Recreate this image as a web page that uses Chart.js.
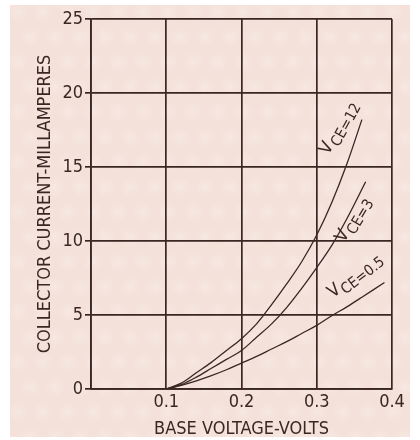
<!DOCTYPE html>
<html>
<head>
<meta charset="utf-8">
<script src="https://cdn.jsdelivr.net/npm/chart.js@4"></script>
<style>
  html, body { margin: 0; padding: 0; background: #ffffff; }
  #wrap { width: 420px; height: 440px; }
</style>
</head>
<body>
<div id="wrap"><canvas id="c" width="420" height="440"></canvas></div>
<script>
// ---- data ----
const xTickValues = [0, 0.1, 0.2, 0.3, 0.4];
const xTickLabels = ['', '0.1', '0.2', '0.3', '0.4'];
const yTickValues = [0, 5, 10, 15, 20, 25];
const yTickLabels = ['0', '5', '10', '15', '20', '25'];

const seriesNames = ['12', '3', '0.5'];

const vce12X = [0.10, 0.12, 0.14, 0.16, 0.18, 0.20, 0.22, 0.24, 0.26, 0.28, 0.30, 0.32, 0.34, 0.36];
const vce12Y = [0, 0.4, 1.1, 1.8, 2.6, 3.4, 4.4, 5.7, 7.1, 8.6, 10.4, 12.6, 15.2, 18.2];

const vce3X = [0.10, 0.12, 0.14, 0.16, 0.18, 0.20, 0.22, 0.24, 0.26, 0.28, 0.30, 0.32, 0.34, 0.365];
const vce3Y = [0, 0.3, 0.8, 1.4, 2.0, 2.6, 3.5, 4.4, 5.5, 6.8, 8.2, 9.7, 11.5, 14.0];

const vce05X = [0.10, 0.12, 0.14, 0.16, 0.18, 0.20, 0.22, 0.24, 0.26, 0.28, 0.30, 0.32, 0.34, 0.36, 0.39];
const vce05Y = [0, 0.25, 0.55, 0.9, 1.3, 1.75, 2.2, 2.7, 3.2, 3.75, 4.3, 4.95, 5.55, 6.2, 7.2];

// ---- styling ----
const INK = '#3a2622';
const PAPER = '#f4e1da';
const FONT = "'Liberation Sans Narrow', 'DejaVu Sans Condensed', 'Arial Narrow', sans-serif";

function pts(xs, ys) { return xs.map((x, i) => ({ x: x, y: ys[i] })); }

const paperPlugin = {
  id: 'paper',
  beforeDraw(chart) {
    const ctx = chart.ctx;
    ctx.save();
    ctx.fillStyle = '#ffffff';
    ctx.fillRect(0, 0, chart.width, chart.height);
    ctx.fillStyle = PAPER;
    ctx.fillRect(10, 5, 400, 432);
    // faint mottled paper texture (decoration only)
    ctx.beginPath();
    ctx.rect(10, 5, 400, 432);
    ctx.clip();
    for (let r = 0; r < 18; r++) {
      for (let c = 0; c < 17; c++) {
        const cx = 18 + c * 25 + (r % 2) * 12;
        const cy = 12 + r * 25;
        const g = ctx.createRadialGradient(cx, cy, 0, cx, cy, 10);
        g.addColorStop(0, 'rgba(250,240,236,0.45)');
        g.addColorStop(1, 'rgba(250,240,236,0)');
        ctx.fillStyle = g;
        ctx.fillRect(cx - 10, cy - 10, 20, 20);
      }
    }
    ctx.restore();
  }
};

const curveLabelPlugin = {
  id: 'curveLabels',
  afterDatasetsDraw(chart, args, opts) {
    const ctx = chart.ctx;
    const xs = chart.scales.x, ys = chart.scales.y;
    opts.items.forEach(it => {
      const px = xs.getPixelForValue(it.x);
      const py = ys.getPixelForValue(it.y);
      ctx.save();
      ctx.translate(px, py);
      ctx.rotate(it.angle * Math.PI / 180);
      ctx.fillStyle = INK;
      ctx.textBaseline = 'alphabetic';
      ctx.font = `${opts.mainSize}px ${FONT}`;
      const wV = ctx.measureText('V').width;
      ctx.font = `${opts.subSize}px ${FONT}`;
      const sub = 'CE=' + it.name;
      const wS = ctx.measureText(sub).width;
      const total = wV + opts.gap + wS;
      const x0 = -total / 2;
      ctx.font = `${opts.mainSize}px ${FONT}`;
      ctx.fillText('V', x0, 3);
      ctx.font = `${opts.subSize}px ${FONT}`;
      ctx.fillText(sub, x0 + wV + opts.gap, 8);
      ctx.restore();
    });
  }
};

const lineStyle = {
  borderColor: INK,
  borderWidth: 1.3,
  pointRadius: 0,
  showLine: true,
  fill: false,
  tension: 0.35
};

new Chart(document.getElementById('c'), {
  type: 'scatter',
  data: {
    datasets: [
      Object.assign({ label: 'VCE=' + seriesNames[0], data: pts(vce12X, vce12Y) }, lineStyle),
      Object.assign({ label: 'VCE=' + seriesNames[1], data: pts(vce3X, vce3Y) }, lineStyle),
      Object.assign({ label: 'VCE=' + seriesNames[2], data: pts(vce05X, vce05Y) }, lineStyle)
    ]
  },
  options: {
    responsive: false,
    animation: false,
    layout: { padding: { left: 0, right: 28, top: 19, bottom: 0 } },
    plugins: {
      legend: { display: false },
      tooltip: { enabled: false },
      curveLabels: {
        mainSize: 18, subSize: 15, gap: 1,
        items: [
          { name: seriesNames[0], x: 0.331, y: 17.6, angle: -61 },
          { name: seriesNames[1], x: 0.350, y: 11.4, angle: -59 },
          { name: seriesNames[2], x: 0.352, y: 7.6, angle: -38 }
        ]
      }
    },
    scales: {
      x: {
        type: 'linear',
        min: 0, max: 0.4,
        afterBuildTicks: s => { s.ticks = xTickValues.map(v => ({ value: v })); },
        afterFit: s => { s.height = 51; },
        grid: { color: INK, lineWidth: 1.7, drawTicks: false },
        border: { color: INK, width: 1.7 },
        ticks: {
          color: INK,
          font: { family: FONT, size: 18 },
          padding: 3,
          maxRotation: 0,
          callback: (v, i) => xTickLabels[i]
        },
        title: {
          display: true,
          text: 'BASE VOLTAGE-VOLTS',
          color: INK,
          font: { family: FONT, size: 18 },
          padding: { top: 0, bottom: 0 }
        }
      },
      y: {
        type: 'linear',
        min: 0, max: 25,
        afterBuildTicks: s => { s.ticks = yTickValues.map(v => ({ value: v })); },
        afterFit: s => { s.width = 91; },
        grid: { color: INK, lineWidth: 1.7, drawTicks: true, tickLength: 6 },
        border: { color: INK, width: 1.7 },
        ticks: {
          color: INK,
          font: { family: FONT, size: 18 },
          padding: 2,
          callback: (v, i) => yTickLabels[i]
        },
        title: {
          display: true,
          text: 'COLLECTOR CURRENT-MILLAMPERES',
          color: INK,
          font: { family: FONT, size: 18 },
          padding: { top: 35, bottom: 0 }
        }
      }
    }
  },
  plugins: [paperPlugin, curveLabelPlugin]
});
</script>
</body>
</html>
